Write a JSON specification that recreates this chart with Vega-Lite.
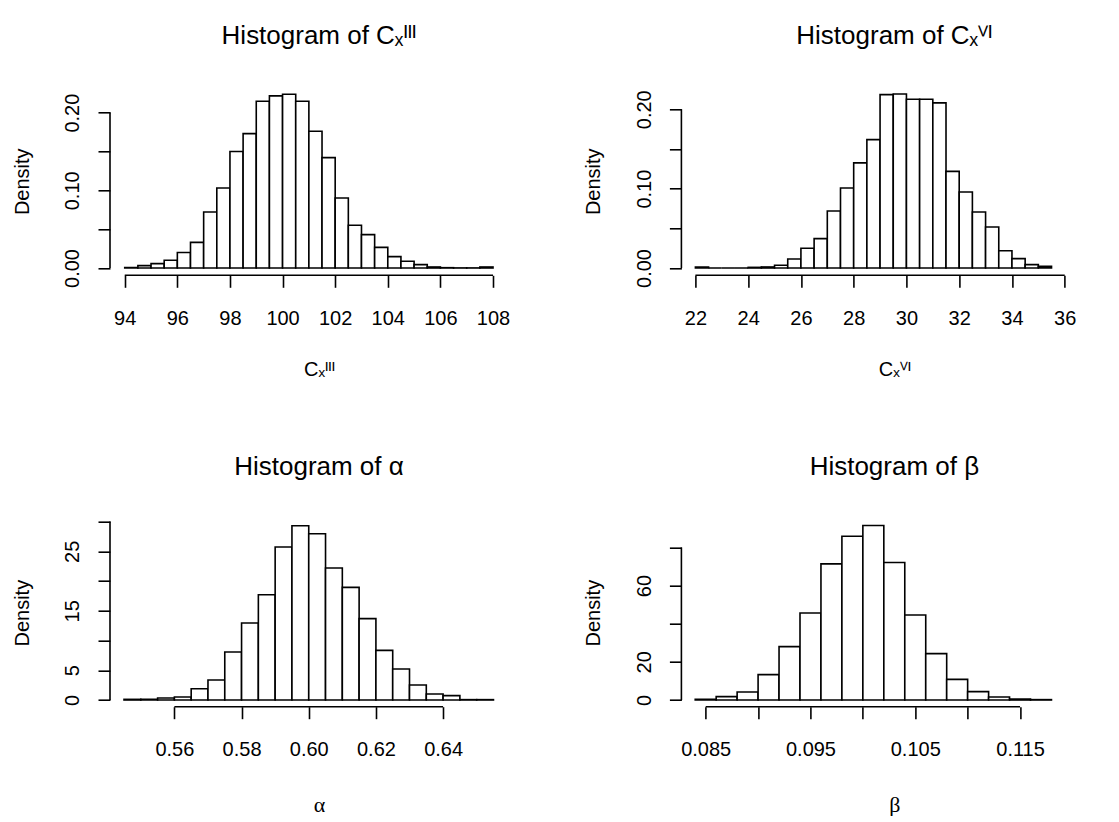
{
  "$schema": "https://vega.github.io/schema/vega-lite/v6.json",
  "padding": {"left": 12, "top": 22.3, "right": 0, "bottom": 0},
  "background": "white",
  "config": {
    "view": {"stroke": null},
    "font": "Liberation Sans",
    "axis": {"grid": false, "domain": false, "tickColor": "black", "tickWidth": 1.6, "tickSize": 12, "tickCount": 30, "labelColor": "black", "titleColor": "black", "labelFont": "Liberation Sans", "titleFont": "Liberation Sans", "labelFontSize": 20, "titleFontSize": 20, "titleFontWeight": "normal", "labelFlush": false, "labelOverlap": false},
    "axisX": {"labelBaseline": "alphabetic", "labelPadding": 37, "titleBaseline": "alphabetic"},
    "axisY": {"labelAngle": 270, "labelAlign": "center", "labelBaseline": "alphabetic", "labelPadding": 19.3, "titleAngle": 270, "titleBaseline": "alphabetic", "titleAlign": "center", "titleX": -82, "titleY": 94},
    "title": {"font": "Liberation Sans", "fontSize": 26, "fontWeight": "normal", "color": "black", "baseline": "alphabetic", "offset": 38.4, "anchor": "middle", "frame": "group"}
  },
  "datasets": {
    "cIII": [
      {"lo": 94, "hi": 94.5, "density": 0.0005},
      {"lo": 94.5, "hi": 95, "density": 0.003},
      {"lo": 95, "hi": 95.5, "density": 0.0056},
      {"lo": 95.5, "hi": 96, "density": 0.010},
      {"lo": 96, "hi": 96.5, "density": 0.020},
      {"lo": 96.5, "hi": 97, "density": 0.033},
      {"lo": 97, "hi": 97.5, "density": 0.072},
      {"lo": 97.5, "hi": 98, "density": 0.103},
      {"lo": 98, "hi": 98.5, "density": 0.150},
      {"lo": 98.5, "hi": 99, "density": 0.173},
      {"lo": 99, "hi": 99.5, "density": 0.2146},
      {"lo": 99.5, "hi": 100, "density": 0.2215},
      {"lo": 100, "hi": 100.5, "density": 0.2236},
      {"lo": 100.5, "hi": 101, "density": 0.2146},
      {"lo": 101, "hi": 101.5, "density": 0.176},
      {"lo": 101.5, "hi": 102, "density": 0.142},
      {"lo": 102, "hi": 102.5, "density": 0.090},
      {"lo": 102.5, "hi": 103, "density": 0.055},
      {"lo": 103, "hi": 103.5, "density": 0.043},
      {"lo": 103.5, "hi": 104, "density": 0.0266},
      {"lo": 104, "hi": 104.5, "density": 0.0146},
      {"lo": 104.5, "hi": 105, "density": 0.0086},
      {"lo": 105, "hi": 105.5, "density": 0.0043},
      {"lo": 105.5, "hi": 106, "density": 0.0013},
      {"lo": 106, "hi": 106.5, "density": 0.0004},
      {"lo": 106.5, "hi": 107, "density": 0.0001},
      {"lo": 107, "hi": 107.5, "density": 0.0001},
      {"lo": 107.5, "hi": 108, "density": 0.0013}
    ],
    "cVI": [
      {"lo": 22, "hi": 22.5, "density": 0.0013},
      {"lo": 22.5, "hi": 23, "density": 0},
      {"lo": 23, "hi": 23.5, "density": 0},
      {"lo": 23.5, "hi": 24, "density": 0},
      {"lo": 24, "hi": 24.5, "density": 0.0008},
      {"lo": 24.5, "hi": 25, "density": 0.0013},
      {"lo": 25, "hi": 25.5, "density": 0.0034},
      {"lo": 25.5, "hi": 26, "density": 0.0113},
      {"lo": 26, "hi": 26.5, "density": 0.0248},
      {"lo": 26.5, "hi": 27, "density": 0.037},
      {"lo": 27, "hi": 27.5, "density": 0.0718},
      {"lo": 27.5, "hi": 28, "density": 0.1008},
      {"lo": 28, "hi": 28.5, "density": 0.1324},
      {"lo": 28.5, "hi": 29, "density": 0.1618},
      {"lo": 29, "hi": 29.5, "density": 0.2185},
      {"lo": 29.5, "hi": 30, "density": 0.2193},
      {"lo": 30, "hi": 30.5, "density": 0.2126},
      {"lo": 30.5, "hi": 31, "density": 0.2126},
      {"lo": 31, "hi": 31.5, "density": 0.208},
      {"lo": 31.5, "hi": 32, "density": 0.1218},
      {"lo": 32, "hi": 32.5, "density": 0.0958},
      {"lo": 32.5, "hi": 33, "density": 0.0706},
      {"lo": 33, "hi": 33.5, "density": 0.0517},
      {"lo": 33.5, "hi": 34, "density": 0.0218},
      {"lo": 34, "hi": 34.5, "density": 0.0118},
      {"lo": 34.5, "hi": 35, "density": 0.0042},
      {"lo": 35, "hi": 35.5, "density": 0.0021}
    ],
    "alpha": [
      {"lo": 0.545, "hi": 0.550, "density": 0.11},
      {"lo": 0.550, "hi": 0.555, "density": 0.11},
      {"lo": 0.555, "hi": 0.560, "density": 0.34},
      {"lo": 0.560, "hi": 0.565, "density": 0.5},
      {"lo": 0.565, "hi": 0.570, "density": 1.9},
      {"lo": 0.570, "hi": 0.575, "density": 3.36},
      {"lo": 0.575, "hi": 0.580, "density": 8.07},
      {"lo": 0.580, "hi": 0.585, "density": 12.95},
      {"lo": 0.585, "hi": 0.590, "density": 17.71},
      {"lo": 0.590, "hi": 0.595, "density": 25.73},
      {"lo": 0.595, "hi": 0.600, "density": 29.31},
      {"lo": 0.600, "hi": 0.605, "density": 27.97},
      {"lo": 0.605, "hi": 0.610, "density": 22.2},
      {"lo": 0.610, "hi": 0.615, "density": 18.94},
      {"lo": 0.615, "hi": 0.620, "density": 13.68},
      {"lo": 0.620, "hi": 0.625, "density": 8.35},
      {"lo": 0.625, "hi": 0.630, "density": 5.21},
      {"lo": 0.630, "hi": 0.635, "density": 2.52},
      {"lo": 0.635, "hi": 0.640, "density": 1.0},
      {"lo": 0.640, "hi": 0.645, "density": 0.73},
      {"lo": 0.645, "hi": 0.650, "density": 0.06},
      {"lo": 0.650, "hi": 0.655, "density": 0.06}
    ],
    "beta": [
      {"lo": 0.084, "hi": 0.086, "density": 0.35},
      {"lo": 0.086, "hi": 0.088, "density": 1.75},
      {"lo": 0.088, "hi": 0.090, "density": 4.2},
      {"lo": 0.090, "hi": 0.092, "density": 13.3},
      {"lo": 0.092, "hi": 0.094, "density": 28.0},
      {"lo": 0.094, "hi": 0.096, "density": 45.65},
      {"lo": 0.096, "hi": 0.098, "density": 71.4},
      {"lo": 0.098, "hi": 0.100, "density": 85.9},
      {"lo": 0.100, "hi": 0.102, "density": 91.5},
      {"lo": 0.102, "hi": 0.104, "density": 72.1},
      {"lo": 0.104, "hi": 0.106, "density": 44.6},
      {"lo": 0.106, "hi": 0.108, "density": 24.3},
      {"lo": 0.108, "hi": 0.110, "density": 10.8},
      {"lo": 0.110, "hi": 0.112, "density": 4.4},
      {"lo": 0.112, "hi": 0.114, "density": 1.6},
      {"lo": 0.114, "hi": 0.116, "density": 0.5},
      {"lo": 0.116, "hi": 0.118, "density": 0.2}
    ]
  },
  "columns": 2,
  "bounds": "flush",
  "spacing": {"row": 243.4, "column": 153.4},
  "concat": [
    {
      "width": 418, "height": 188,
      "title": {"text": "Histogram of Cₓᴵᴵᴵ"},
      "layer": [
        {
          "data": {"name": "cIII"},
          "mark": {"type": "rect", "fill": "white", "stroke": "black", "strokeWidth": 1.6},
          "encoding": {
            "x": {"field": "lo", "type": "quantitative", "scale": {"domain": [93.44, 109.33], "nice": false, "zero": false},
                  "axis": {"values": [94, 96, 98, 100, 102, 104, 106, 108], "format": "d", "title": "Cₓᴵᴵᴵ", "titleY": 100}},
            "x2": {"field": "hi"},
            "y": {"field": "density", "type": "quantitative", "scale": {"domain": [-0.0094, 0.23256], "nice": false, "zero": false},
                  "axis": {"values": [0, 0.05, 0.1, 0.15, 0.2], "labelExpr": "round(datum.value*20) % 2 == 0 ? format(datum.value, '.2f') : ''", "title": "Density"}},
            "y2": {"datum": 0}
          }
        },
        {
          "data": {"values": [{}]},
          "mark": {"type": "rule", "stroke": "black", "strokeWidth": 1.6},
          "encoding": {"x": {"datum": 94, "type": "quantitative"}, "x2": {"datum": 108}, "y": {"datum": -0.0094, "type": "quantitative"}}
        },
        {
          "data": {"values": [{}]},
          "mark": {"type": "rule", "stroke": "black", "strokeWidth": 1.6},
          "encoding": {"x": {"datum": 93.44, "type": "quantitative"}, "y": {"datum": 0, "type": "quantitative"}, "y2": {"datum": 0.2}}
        }
      ]
    },
    {
      "width": 426, "height": 188,
      "title": {"text": "Histogram of Cₓⱽᴵ"},
      "layer": [
        {
          "data": {"name": "cVI"},
          "mark": {"type": "rect", "fill": "white", "stroke": "black", "strokeWidth": 1.6},
          "encoding": {
            "x": {"field": "lo", "type": "quantitative", "scale": {"domain": [21.469, 37.618], "nice": false, "zero": false},
                  "axis": {"values": [22, 24, 26, 28, 30, 32, 34, 36], "format": "d", "title": "Cₓⱽᴵ", "titleY": 100}},
            "x2": {"field": "hi"},
            "y": {"field": "density", "type": "quantitative", "scale": {"domain": [-0.0092, 0.22767], "nice": false, "zero": false},
                  "axis": {"values": [0, 0.05, 0.1, 0.15, 0.2], "labelExpr": "round(datum.value*20) % 2 == 0 ? format(datum.value, '.2f') : ''", "title": "Density"}},
            "y2": {"datum": 0}
          }
        },
        {
          "data": {"values": [{}]},
          "mark": {"type": "rule", "stroke": "black", "strokeWidth": 1.6},
          "encoding": {"x": {"datum": 22, "type": "quantitative"}, "x2": {"datum": 36}, "y": {"datum": -0.0092, "type": "quantitative"}}
        },
        {
          "data": {"values": [{}]},
          "mark": {"type": "rule", "stroke": "black", "strokeWidth": 1.6},
          "encoding": {"x": {"datum": 21.469, "type": "quantitative"}, "y": {"datum": 0, "type": "quantitative"}, "y2": {"datum": 0.2}}
        }
      ]
    },
    {
      "width": 418, "height": 188,
      "title": {"text": "Histogram of α"},
      "layer": [
        {
          "data": {"name": "alpha"},
          "mark": {"type": "rect", "fill": "white", "stroke": "black", "strokeWidth": 1.6},
          "encoding": {
            "x": {"field": "lo", "type": "quantitative", "scale": {"domain": [0.54083, 0.66528], "nice": false, "zero": false},
                  "axis": {"values": [0.56, 0.58, 0.60, 0.62, 0.64], "format": ".2f", "title": "α", "titleY": 105, "titleFont": "Liberation Serif", "titleFontSize": 22}},
            "x2": {"field": "hi"},
            "y": {"field": "density", "type": "quantitative", "scale": {"domain": [-1.127, 30.49], "nice": false, "zero": false},
                  "axis": {"values": [0, 5, 10, 15, 20, 25, 30], "format": "d", "labelExpr": "indexof([0, 5, 15, 25], datum.value) >= 0 ? datum.label : ''", "title": "Density"}},
            "y2": {"datum": 0}
          }
        },
        {
          "data": {"values": [{}]},
          "mark": {"type": "rule", "stroke": "black", "strokeWidth": 1.6},
          "encoding": {"x": {"datum": 0.56, "type": "quantitative"}, "x2": {"datum": 0.64}, "y": {"datum": -1.127, "type": "quantitative"}}
        },
        {
          "data": {"values": [{}]},
          "mark": {"type": "rule", "stroke": "black", "strokeWidth": 1.6},
          "encoding": {"x": {"datum": 0.54083, "type": "quantitative"}, "y": {"datum": 0, "type": "quantitative"}, "y2": {"datum": 30}}
        }
      ]
    },
    {
      "width": 426, "height": 188,
      "title": {"text": "Histogram of β"},
      "layer": [
        {
          "data": {"name": "beta"},
          "mark": {"type": "rect", "fill": "white", "stroke": "black", "strokeWidth": 1.6},
          "encoding": {
            "x": {"field": "lo", "type": "quantitative", "scale": {"domain": [0.082681, 0.123338], "nice": false, "zero": false},
                  "axis": {"values": [0.085, 0.09, 0.095, 0.1, 0.105, 0.11, 0.115], "labelExpr": "round(datum.value*1000) % 10 == 5 ? format(datum.value, '.3f') : ''", "title": "β", "titleY": 105, "titleFont": "Liberation Serif", "titleFontSize": 22}},
            "x2": {"field": "hi"},
            "y": {"field": "density", "type": "quantitative", "scale": {"domain": [-3.51, 95.07], "nice": false, "zero": false},
                  "axis": {"values": [0, 20, 40, 60, 80], "format": "d", "labelExpr": "indexof([0, 20, 60], datum.value) >= 0 ? datum.label : ''", "title": "Density"}},
            "y2": {"datum": 0}
          }
        },
        {
          "data": {"values": [{}]},
          "mark": {"type": "rule", "stroke": "black", "strokeWidth": 1.6},
          "encoding": {"x": {"datum": 0.085, "type": "quantitative"}, "x2": {"datum": 0.115}, "y": {"datum": -3.51, "type": "quantitative"}}
        },
        {
          "data": {"values": [{}]},
          "mark": {"type": "rule", "stroke": "black", "strokeWidth": 1.6},
          "encoding": {"x": {"datum": 0.082681, "type": "quantitative"}, "y": {"datum": 0, "type": "quantitative"}, "y2": {"datum": 80}}
        }
      ]
    }
  ]
}
